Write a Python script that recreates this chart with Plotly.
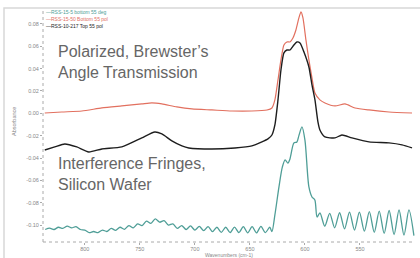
import plotly.graph_objects as go

# ---------------- data ----------------
black_wn = [836.4, 827.3, 818.2, 807.3, 796.4, 784.5, 766.4, 748.2, 736.4, 730.0, 720.9, 711.8, 705.5,
            684.5, 663.6, 648.2, 639.1, 633.6, 630.0, 627.3, 624.5, 621.8, 619.1, 616.4, 613.6, 610.0,
            607.3, 604.5, 600.9, 596.4, 593.6, 590.9, 588.2, 586.4, 581.8, 572.7, 566.4, 557.3, 541.8,
            523.6, 511.8, 502.7]
black_abs = [-0.0328, -0.0301, -0.0274, -0.0301, -0.0346, -0.0319, -0.0301, -0.0220, -0.0167, -0.0185,
             -0.0247, -0.0292, -0.0310, -0.0319, -0.0310, -0.0292, -0.0256, -0.0229, -0.0194, -0.0104,
             0.0120, 0.0388, 0.0541, 0.0567, 0.0567, 0.0612, 0.0639, 0.0630, 0.0549, 0.0415, 0.0254,
             0.0120, -0.0077, -0.0149, -0.0211, -0.0220, -0.0194, -0.0220, -0.0256, -0.0265, -0.0283,
             -0.0310]

red_wn = [836.4, 820.9, 802.7, 784.5, 766.4, 748.2, 739.1, 730.0, 716.4, 702.7, 684.5, 666.4, 648.2,
          634.5, 630.0, 627.3, 624.5, 621.8, 619.1, 616.4, 613.6, 610.9, 608.2, 605.5, 603.6, 601.8,
          599.1, 596.4, 593.6, 590.9, 586.4, 581.8, 572.7, 563.6, 554.5, 541.8, 523.6, 502.7]
red_abs = [0.0003, 0.0012, 0.0021, 0.0048, 0.0066, 0.0084, 0.0093, 0.0084, 0.0057, 0.0039, 0.0030,
           0.0021, 0.0021, 0.0030, 0.0048, 0.0120, 0.0299, 0.0478, 0.0612, 0.0639, 0.0639, 0.0675,
           0.0746, 0.0854, 0.0908, 0.0854, 0.0657, 0.0478, 0.0317, 0.0182, 0.0120, 0.0093, 0.0066,
           0.0084, 0.0048, 0.0030, 0.0012, 0.0003]

teal_wn = [836, 832, 828, 824, 820, 816, 812, 808, 804, 800, 796, 792, 788, 784, 780, 776, 772, 768,
           764, 760, 756, 752, 748, 744, 740, 736, 732, 728, 724, 720, 716, 712, 708, 704, 700, 696,
           692, 688, 684, 680, 676, 672, 668, 664, 660, 656, 652, 648, 644, 640, 636, 632, 630,
           627.3, 623.6, 620.5, 618.0, 615.5, 613.6, 610.0, 607.3, 605.5, 602.7, 600.0, 596.4, 593.6,
           591.0, 589.0, 586.4,
           582, 577.5, 573, 568.5, 564, 559.5, 555, 550.5, 546, 541.5, 537, 532.5, 528, 523.5, 519,
           514.5, 510, 505.5, 501]
teal_abs = [-0.1040, -0.1028, -0.1040, -0.1020, -0.1030, -0.1010, -0.1025, -0.1015, -0.1040, -0.1045,
            -0.1068, -0.1058, -0.1068, -0.1045, -0.1058, -0.1030, -0.1048, -0.1020, -0.1038, -0.1005,
            -0.1025, -0.0990, -0.1005, -0.0965, -0.0985, -0.0945, -0.0975, -0.0960, -0.1000, -0.0990,
            -0.1030, -0.1005, -0.1040, -0.1008, -0.1045, -0.1012, -0.1050, -0.1015, -0.1060, -0.1020,
            -0.1065, -0.1020, -0.1068, -0.1018, -0.1068, -0.1015, -0.1070, -0.1015, -0.1070, -0.1012,
            -0.1068, -0.1020, -0.1060,
            -0.0910, -0.0659, -0.0480, -0.0417, -0.0445, -0.0408, -0.0265, -0.0256, -0.0200, -0.0122,
            -0.0240, -0.0659, -0.0749, -0.0776, -0.0928, -0.0892,
            -0.1010, -0.0895, -0.1025, -0.0890, -0.1035, -0.0885, -0.1045, -0.0885, -0.1055, -0.0880,
            -0.1065, -0.0875, -0.1075, -0.0870, -0.1085, -0.0865, -0.1090, -0.0865, -0.1095]

series_names = ["RSS-15-5 bottom 55 deg", "RSS-15-50 Bottom 55 pol", "RSS-10-217 Top 55 pol"]
x_ticks = [800, 750, 700, 650, 600, 550]
y_ticks = [0.08, 0.06, 0.04, 0.02, 0.00, -0.02, -0.04, -0.06, -0.08, -0.10]

TEAL = "#4f9e97"
RED = "#e2705f"
BLACK = "#1e1e1e"

fig = go.Figure()
fig.add_trace(go.Scatter(x=teal_wn, y=teal_abs, mode="lines", name=series_names[0],
                         line=dict(color=TEAL, width=1.3, shape="spline", smoothing=0.8), showlegend=False))
fig.add_trace(go.Scatter(x=red_wn, y=red_abs, mode="lines", name=series_names[1],
                         line=dict(color=RED, width=1.2, shape="spline", smoothing=0.6), showlegend=False))
fig.add_trace(go.Scatter(x=black_wn, y=black_abs, mode="lines", name=series_names[2],
                         line=dict(color=BLACK, width=1.4, shape="spline", smoothing=0.6), showlegend=False))

tickfont = dict(family="Liberation Sans", size=5.5, color="#888")
fig.update_layout(
    width=420, height=258,
    margin=dict(l=43, r=5, t=10, b=16, autoexpand=False),
    paper_bgcolor="white", plot_bgcolor="white",
    xaxis=dict(range=[838, 500], tickvals=x_ticks, ticktext=[str(v) for v in x_ticks],
               showgrid=False, zeroline=False, showline=False, automargin=False,
               ticks="outside", ticklen=2, tickcolor="#aaa", tickfont=tickfont,
               ticklabelstandoff=-1),
    yaxis=dict(range=[-0.1152, 0.0925], tickvals=y_ticks, ticktext=[f"{v:.2f}" for v in y_ticks],
               showgrid=False, zeroline=False, showline=False, automargin=False,
               ticks="outside", ticklen=2, tickcolor="#aaa", tickfont=tickfont),
)

def px_x(px):
    return (px - 43) / 372

def px_y(py):
    return (242 - py) / 232

# axis titles
fig.add_annotation(xref="paper", yref="paper", x=px_x(229), y=px_y(255), text="Wavenumbers (cm-1)",
                   showarrow=False, xanchor="center", yanchor="middle",
                   font=dict(family="Liberation Sans", size=5, color="#888"))
fig.add_annotation(xref="paper", yref="paper", x=px_x(14), y=px_y(122), text="Absorbance",
                   showarrow=False, xanchor="center", yanchor="middle", textangle=-90,
                   font=dict(family="Liberation Sans", size=5.5, color="#888"))

# dotted axis lines and outer frame
fig.add_shape(type="line", xref="paper", yref="paper", x0=0, x1=1, y0=0, y1=0,
              line=dict(color="#aaa", width=1, dash="dot"))
fig.add_shape(type="line", xref="paper", yref="paper", x0=0, x1=0, y0=0, y1=1,
              line=dict(color="#aaa", width=1, dash="dot"))
fig.add_shape(type="rect", xref="paper", yref="paper", x0=px_x(4), x1=px_x(430), y0=px_y(270), y1=px_y(8),
              line=dict(color="#d8d8d8", width=1.5))

# legend as text lines
leg_colors = [TEAL, RED, BLACK]
leg_y = [12, 19, 26]
for name, col, py in zip(series_names, leg_colors, leg_y):
    fig.add_annotation(xref="paper", yref="paper", x=px_x(44), y=px_y(py),
                       text="\u2014" + name, showarrow=False, xanchor="left", yanchor="middle",
                       font=dict(family="Liberation Sans", size=5, color=col))

# big labels
bigfont = dict(family="Liberation Sans", size=16, color="#666")
fig.add_annotation(xref="paper", yref="paper", x=px_x(56), y=px_y(41),
                   text="Polarized, Brewster\u2019s<br>Angle Transmission", showarrow=False,
                   xanchor="left", yanchor="top", align="left", font=bigfont)
fig.add_annotation(xref="paper", yref="paper", x=px_x(56), y=px_y(153),
                   text="Interference Fringes,<br>Silicon Wafer", showarrow=False,
                   xanchor="left", yanchor="top", align="left", font=bigfont)

fig.write_html("out.html", config={"displayModeBar": False},
               post_script="document.body.style.margin='0px';document.body.style.overflow='hidden';")
